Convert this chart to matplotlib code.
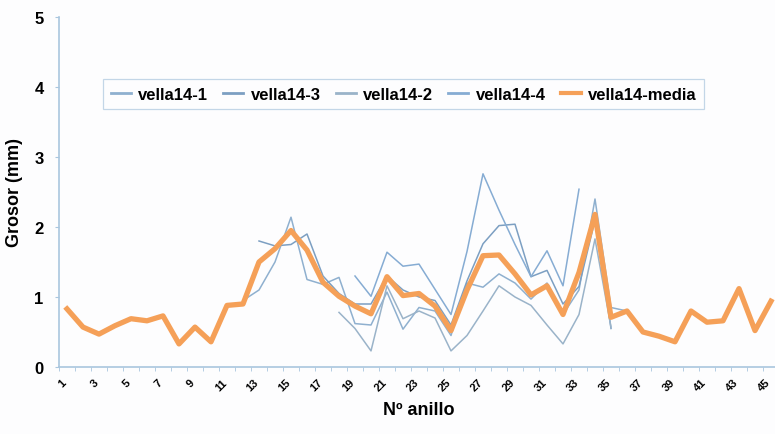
import numpy as np
import matplotlib
matplotlib.use("Agg")
import matplotlib.pyplot as plt

plt.rcParams['font.family'] = ['Liberation Sans', 'DejaVu Sans']

# Ring number (categories)
anillos = list(range(1, 46))
nan = np.nan

# Individual radii (mm); missing rings left empty
vella14_1 = [nan]*11 + [0.95, 1.10, 1.50, 2.14, 1.25, 1.18, 1.28, 0.62, 0.60, 1.07, 0.54, 0.85,
                        0.80, 0.45, 1.20, 1.14, 1.33, 1.20, 0.97, 1.20, 0.75, 1.10, 2.40, 0.85, 0.80] + [nan]*9
vella14_3 = [nan]*12 + [1.80, 1.73, 1.75, 1.90, 1.30, 1.05, 0.90, 0.90, 1.30, 1.10, 1.00,
                        0.95, 0.60, 1.23, 1.76, 2.02, 2.04, 1.29, 1.38, 0.90, 1.15, 2.10, 0.55] + [nan]*10
vella14_2 = [nan]*17 + [0.78, 0.55, 0.23, 1.16, 0.69, 0.80, 0.70, 0.23, 0.45, 0.80, 1.16, 1.00,
                        0.88, 0.60, 0.33, 0.75, 1.83, 0.57] + [nan]*10
vella14_4 = [nan]*18 + [1.30, 1.01, 1.64, 1.44, 1.47, 1.11, 0.75, 1.65, 2.76, 2.24, 1.75, 1.29,
                        1.66, 1.16, 2.54] + [nan]*12
vella14_media = [0.83, 0.57, 0.47, 0.59, 0.69, 0.66, 0.73, 0.33, 0.57, 0.36,
                 0.88, 0.90, 1.50, 1.69, 1.95, 1.67, 1.21, 1.01, 0.87, 0.76,
                 1.29, 1.02, 1.05, 0.87, 0.52, 1.10, 1.59, 1.60, 1.33, 1.03,
                 1.16, 0.75, 1.35, 2.18, 0.71, 0.80, 0.50, 0.44, 0.36, 0.80,
                 0.64, 0.66, 1.12, 0.52, 0.94]

series = [("vella14-1", vella14_1, "#8fb0cf"),
          ("vella14-3", vella14_3, "#7c9fc2"),
          ("vella14-2", vella14_2, "#9ab3c9"),
          ("vella14-4", vella14_4, "#86acd3")]

fig = plt.figure(figsize=(7.75, 4.35), dpi=100)
fig.patch.set_facecolor("#fdfdfe")
ax = fig.add_axes([59/775, 67/435, 720/775, 350/435])
ax.set_facecolor("#fdfdfe")

for name, vals, col in series:
    ax.plot(anillos, vals, color=col, lw=1.1, label=name)
ax.plot(anillos, vella14_media, color="#f5a058", lw=3.8, label="vella14-media",
        solid_joinstyle="round")

ax.set_xlim(0.5, 45.5)
ax.set_ylim(0, 5)
ax.set_yticks(range(0, 6))
ax.set_yticklabels([str(v) for v in range(0, 6)], fontsize=12, fontweight="bold")

# rotated category labels end just left of their category
label_offset = 0.35
ax.set_xticks([a - label_offset for a in anillos[::2]])
ax.set_xticklabels([str(v) for v in anillos[::2]], fontsize=8, fontweight="bold",
                   rotation=45, ha="right", rotation_mode="anchor")
ax.set_xticks(np.arange(0.5, 46, 1), minor=True)

for s in ("top", "right"):
    ax.spines[s].set_visible(False)
for s in ("left", "bottom"):
    ax.spines[s].set_color("#a9c6de")
    ax.spines[s].set_linewidth(1.2)
ax.tick_params(axis="both", which="both", color="#a9c6de", length=3)
ax.tick_params(axis="x", which="major", length=0, pad=7)
ax.tick_params(axis="y", pad=8)

ax.set_ylabel("Grosor (mm)", fontsize=13, fontweight="bold", labelpad=8)
ax.set_xlabel("Nº anillo", fontsize=13, fontweight="bold", labelpad=6)

leg = fig.legend(loc="upper left", bbox_to_anchor=(103/775, 1 - 80/435), ncol=5,
                 prop={"size": 12, "weight": "bold"}, frameon=True, fancybox=False,
                 handlelength=1.2, handletextpad=0.45, columnspacing=0.9,
                 borderpad=0.45, borderaxespad=0)
leg.get_frame().set_edgecolor("#b5cde2")
leg.get_frame().set_linewidth(0.9)
leg.get_frame().set_facecolor("#fdfdfe")
for line in leg.get_lines():
    line.set_linewidth(2.0)
leg.get_lines()[-1].set_linewidth(3.0)

fig.savefig("out.png", dpi=100, facecolor=fig.get_facecolor())
